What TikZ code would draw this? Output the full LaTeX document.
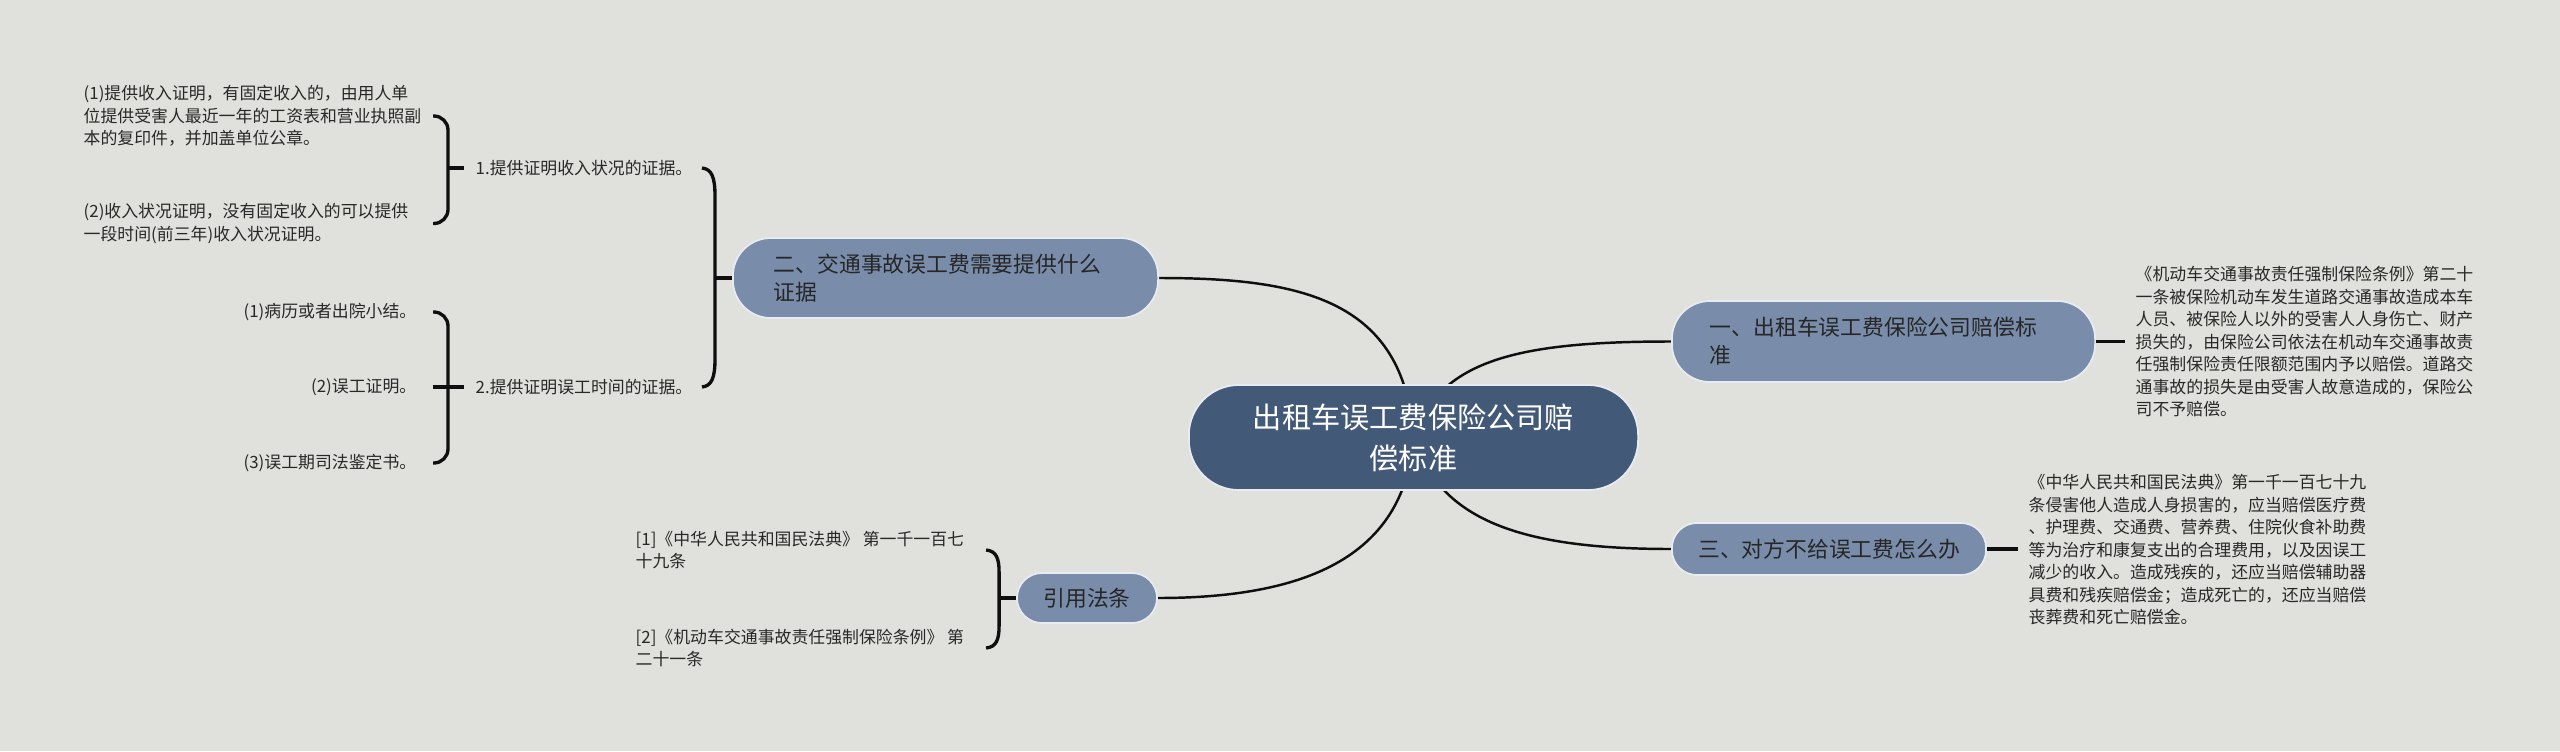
\documentclass[tikz,border=0pt]{standalone}
\usepackage{fontspec}
\setmainfont{Noto Sans CJK SC}
\usetikzlibrary{calc}
\pgfdeclarelayer{back}
\pgfdeclarelayer{links}
\pgfsetlayers{back,links,main}
\definecolor{bgc}{RGB}{224,225,220}
\definecolor{rootc}{RGB}{67,89,120}
\definecolor{brc}{RGB}{121,140,170}
\definecolor{edgec}{RGB}{232,236,242}
\definecolor{brtext}{RGB}{38,38,38}
\definecolor{leaftext}{RGB}{40,40,40}
\definecolor{linec}{RGB}{15,15,15}
\begin{document}
\begin{tikzpicture}[x=0.01cm,y=-0.01cm,
  curve/.style={draw=linec, line width=0.7pt},
  brk/.style={draw=linec, line width=0.95pt},
  root/.style={rectangle, rounded corners=0.5cm, fill=rootc, draw=edgec, line width=0.5pt,
    minimum width=4.49cm, minimum height=1.05cm, align=center, text=white, inner sep=0pt,
    font=\fontsize{8.3pt}{11.6pt}\selectfont},
  branch/.style={rectangle, fill=brc, draw=edgec, line width=0.5pt, text=brtext,
    font=\fontsize{6.2pt}{8pt}\selectfont},
  leaf/.style={text=leaftext, font=\fontsize{4.8pt}{6.4pt}\selectfont, align=left, inner sep=0pt}]
\useasboundingbox (0,0) rectangle (2560,751);
\begin{pgfonlayer}{back}
\fill[bgc] (0,0) rectangle (2560,751);
\end{pgfonlayer}

% central and main topics
\node[root] (cen) at (1413.5,437.5) {出租车误工费保险公司赔\\偿标准};
\node[branch, rounded corners=0.38cm, text width=3.43cm, inner xsep=0.41cm, inner ysep=0pt,
  minimum height=0.8cm, align=left] (b2) at (945.5,278) {二、交通事故误工费需要提供什么\\证据};
\node[branch, rounded corners=0.38cm, text width=3.47cm, inner xsep=0.38cm, inner ysep=0pt,
  minimum height=0.81cm, align=left] (b1) at (1883.5,341.5) {一、出租车误工费保险公司赔偿标\\准};
\node[branch, rounded corners=0.25cm, minimum width=3.14cm, minimum height=0.52cm, inner sep=0pt,
  align=center] (b3) at (1829,549) {三、对方不给误工费怎么办};
\node[branch, rounded corners=0.25cm, minimum width=1.4cm, minimum height=0.5cm, inner sep=0pt,
  align=center] (bref) at (1087,598) {引用法条};

% left sub topics
\node[leaf, inner xsep=0.11cm, anchor=west] (L1) at (464,168) {1.提供证明收入状况的证据。};
\node[leaf, inner xsep=0.11cm, anchor=west] (L2) at (464,387) {2.提供证明误工时间的证据。};
\node[leaf, anchor=west] (A1) at (83,116) {(1)提供收入证明，有固定收入的，由用人单\\位提供受害人最近一年的工资表和营业执照副\\本的复印件，并加盖单位公章。};
\node[leaf, anchor=west] (A2) at (83,223.5) {(2)收入状况证明，没有固定收入的可以提供\\一段时间(前三年)收入状况证明。};
\node[leaf, inner xsep=0.16cm, anchor=east] (C1) at (433,312) {(1)病历或者出院小结。};
\node[leaf, inner xsep=0.16cm, anchor=east] (C2) at (433,387) {(2)误工证明。};
\node[leaf, inner xsep=0.16cm, anchor=east] (C3) at (433,463) {(3)误工期司法鉴定书。};

% references
\node[leaf, anchor=west] (R1) at (635,550) {[1]《中华人民共和国民法典》 第一千一百七\\十九条};
\node[leaf, anchor=west] (R2) at (635,648) {[2]《机动车交通事故责任强制保险条例》 第\\二十一条};

% right details
\node[leaf, inner xsep=0.1cm, anchor=west] (D1) at (2125,342) {《机动车交通事故责任强制保险条例》第二十\\一条被保险机动车发生道路交通事故造成本车\\人员、被保险人以外的受害人人身伤亡、财产\\损失的，由保险公司依法在机动车交通事故责\\任强制保险责任限额范围内予以赔偿。道路交\\通事故的损失是由受害人故意造成的，保险公\\司不予赔偿。};
\node[leaf, inner xsep=0.1cm, anchor=west] (D3) at (2018,550) {《中华人民共和国民法典》第一千一百七十九\\条侵害他人造成人身损害的，应当赔偿医疗费\\、护理费、交通费、营养费、住院伙食补助费\\等为治疗和康复支出的合理费用，以及因误工\\减少的收入。造成残疾的，还应当赔偿辅助器\\具费和残疾赔偿金；造成死亡的，还应当赔偿\\丧葬费和死亡赔偿金。};

\begin{pgfonlayer}{links}
% curves from the centre
\draw[curve] (cen.center) .. controls ($(cen.center)+(-9,-138)$) and ($(b2.east)+(142,0)$) .. (b2.east);
\draw[curve] (cen.center) .. controls ($(cen.center)+(-9,122)$) and ($(bref.east)+(143,0)$) .. (bref.east);
\draw[curve] (cen.center) .. controls ($(cen.center)+(26,-78)$) and ($(b1.west)+(-152,0)$) .. (b1.west);
\draw[curve] (cen.center) .. controls ($(cen.center)+(26,82)$) and ($(b3.west)+(-152,0)$) .. (b3.west);
\end{pgfonlayer}

% right connectors
\draw[brk] (b1.east) -- (b1.east -| D1.west);
\draw[brk] (b3.east) -- (b3.east -| D3.west);

% big bracket for b2
\coordinate (s0) at ($(b2.west)+(-17,0)$);
\draw[brk] ($(s0|-L1.east)+(-13,0)$) .. controls ($(s0|-L1.east)+(-3,1)$) and ($(s0|-L1.east)+(0,10)$) .. ($(s0|-L1.east)+(0,28)$)
  -- ($(s0|-L2.east)+(0,-28)$) .. controls ($(s0|-L2.east)+(0,-10)$) and ($(s0|-L2.east)+(-3,-1)$) .. ($(s0|-L2.east)+(-13,0)$);
\draw[brk] (s0) -- (b2.west);

% bracket 1
\coordinate (s1) at ($(L1.west)+(-16,0)$);
\draw[brk, rounded corners=4pt] ($(s1|-A1.west)+(-15,0)$) -| (s1) |- ($(s1|-A2.west)+(-15,0)$);
\draw[brk] (s1) -- (L1.west);

% bracket 2
\coordinate (s2) at ($(L2.west)+(-16,0)$);
\draw[brk, rounded corners=4pt] (C1.east) -| (s2) |- (C3.east);
\draw[brk] (C2.east) -- (L2.west);

% reference bracket
\coordinate (s3) at ($(bref.west)+(-17,0)$);
\draw[brk] ($(s3|-R1.east)+(-13,0)$) .. controls ($(s3|-R1.east)+(-3,1)$) and ($(s3|-R1.east)+(0,8)$) .. ($(s3|-R1.east)+(0,22)$)
  -- ($(s3|-R2.east)+(0,-22)$) .. controls ($(s3|-R2.east)+(0,-8)$) and ($(s3|-R2.east)+(-3,-1)$) .. ($(s3|-R2.east)+(-13,0)$);
\draw[brk] (s3) -- (bref.west);
\end{tikzpicture}
\end{document}
